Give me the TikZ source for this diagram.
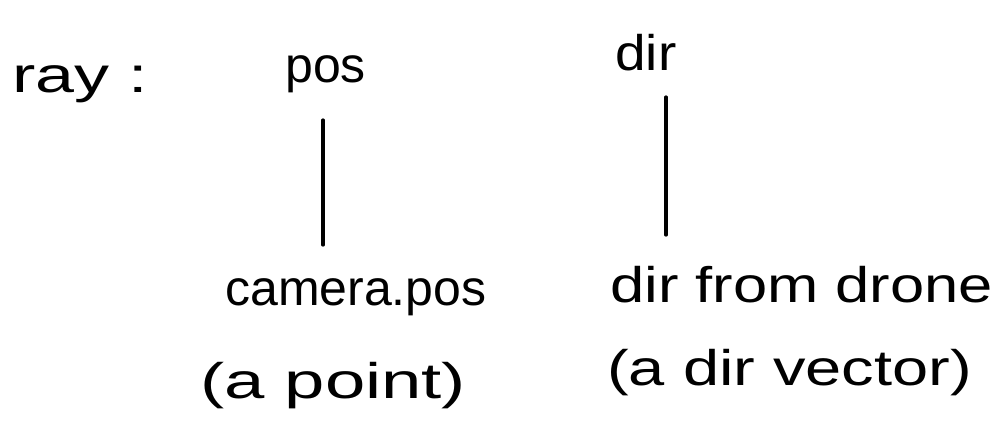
\documentclass[tikz,border=0pt]{standalone}
\usepackage{fontspec}
\setmainfont{Liberation Sans}
\newcommand{\wide}[2]{\scalebox{#1}[1]{#2}}
\begin{document}
\begin{tikzpicture}[x=1pt,y=-1pt,
  hand/.style={font=\fontsize{50}{58}\selectfont, inner sep=0pt, anchor=base west},
  link/.style={line width=3.2pt, line cap=round}]
\useasboundingbox (0,0) rectangle (1008,431);
\node[hand] (ray) at (12,92) {\wide{1.4}{ray :}};
\node[hand] (pos) at (285,82) {pos};
\node[hand] (dir) at (615,70) {\wide{1.1}{dir}};
\node[hand] (cam) at (225,305) {camera.pos};
\node[hand] (pt) at (200,398) {\wide{1.45}{(a point)}};
\node[hand] (drone) at (610,302) {\wide{1.23}{dir from drone}};
\node[hand] (vec) at (607,385) {\wide{1.3}{(a dir vector)}};
\coordinate (posTop) at (323,120);
\coordinate (posBot) at (323,245);
\coordinate (dirTop) at (666,97);
\coordinate (dirBot) at (666,235);
\draw[link] (posTop) -- (posBot);
\draw[link] (dirTop) -- (dirBot);
\end{tikzpicture}
\end{document}
